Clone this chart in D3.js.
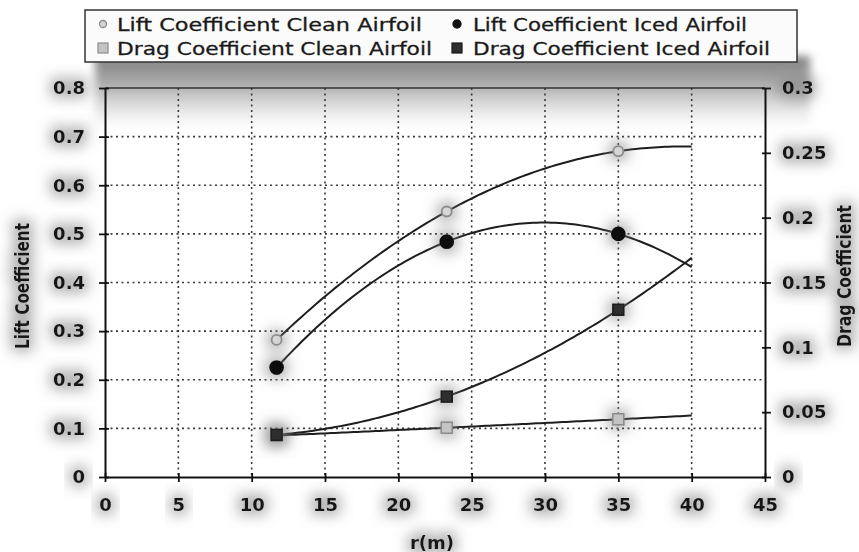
<!DOCTYPE html>
<html>
<head>
<meta charset="utf-8">
<script src="https://cdn.jsdelivr.net/npm/d3@7"></script>
<style>
  html, body { margin: 0; padding: 0; background: #fff; }
  svg { display: block; }
</style>
</head>
<body>
<svg id="chart"></svg>
<script>
// Radial stations along the blade (m)
const rValues = [11.7, 23.3, 35];
// the order-2 trendlines are carried forward to the blade tip
const trendEnd = 40;

const liftClean = [0.282, 0.546, 0.670];
const liftIced = [0.225, 0.484, 0.500];
const dragClean = [0.032, 0.038, 0.0445];
const dragIced = [0.0325, 0.062, 0.129];

const xTicks = [0, 5, 10, 15, 20, 25, 30, 35, 40, 45];
const liftTicks = [0, 0.1, 0.2, 0.3, 0.4, 0.5, 0.6, 0.7, 0.8];
const liftTickLabels = ["0", "0.1", "0.2", "0.3", "0.4", "0.5", "0.6", "0.7", "0.8"];
const dragTicks = [0, 0.05, 0.1, 0.15, 0.2, 0.25, 0.3];
const dragTickLabels = ["0", "0.05", "0.1", "0.15", "0.2", "0.25", "0.3"];

const legendLabels = [
  "Lift Coefficient Clean Airfoil",
  "Lift Coefficient Iced Airfoil",
  "Drag Coefficient Clean Airfoil",
  "Drag Coefficient Iced Airfoil"
];

const width = 859;
const height = 552;
const plot = { left: 105, right: 765, top: 88, bottom: 477 };

const svg = d3.select("#chart").attr("width", width).attr("height", height);

// least-squares polynomial fit (like a spreadsheet trendline)
function polyfit(xs, ys, order) {
  const n = order + 1;
  const A = [];
  for (let i = 0; i < n; i++) {
    A.push([]);
    for (let j = 0; j < n; j++) A[i].push(d3.sum(xs, x => Math.pow(x, i + j)));
    A[i].push(d3.sum(xs, (x, k) => ys[k] * Math.pow(x, i)));
  }
  for (let c = 0; c < n; c++) {
    let p = c;
    for (let r = c + 1; r < n; r++) if (Math.abs(A[r][c]) > Math.abs(A[p][c])) p = r;
    [A[c], A[p]] = [A[p], A[c]];
    for (let r = 0; r < n; r++) {
      if (r === c) continue;
      const f = A[r][c] / A[c][c];
      for (let k = c; k <= n; k++) A[r][k] -= f * A[c][k];
    }
  }
  const coef = A.map((row, i) => row[n] / row[i]);
  return x => coef.reduce((s, c, i) => s + c * Math.pow(x, i), 0);
}

// Scanned-paper look: grey halo behind text and marks
const defs = svg.append("defs");
const halo = defs.append("filter").attr("id", "halo")
  .attr("x", "-60%").attr("y", "-60%").attr("width", "220%").attr("height", "220%");
halo.append("feMorphology").attr("in", "SourceAlpha").attr("operator", "dilate")
  .attr("radius", 4).attr("result", "fat");
halo.append("feGaussianBlur").attr("in", "fat").attr("stdDeviation", 7).attr("result", "blur");
halo.append("feFlood").attr("flood-color", "#808080").attr("flood-opacity", 0.6).attr("result", "grey");
halo.append("feComposite").attr("in", "grey").attr("in2", "blur").attr("operator", "in").attr("result", "shadow");
const hm = halo.append("feMerge");
hm.append("feMergeNode").attr("in", "shadow");
hm.append("feMergeNode").attr("in", "SourceGraphic");

const band = defs.append("linearGradient").attr("id", "band")
  .attr("x1", 0).attr("y1", 0).attr("x2", 0).attr("y2", 1);
band.append("stop").attr("offset", "0%").attr("stop-color", "#6e6e6e").attr("stop-opacity", 0.9);
band.append("stop").attr("offset", "40%").attr("stop-color", "#8a8a8a").attr("stop-opacity", 0.7);
band.append("stop").attr("offset", "100%").attr("stop-color", "#bdbdbd").attr("stop-opacity", 0);

const soft = defs.append("filter").attr("id", "soft")
  .attr("x", "-10%").attr("y", "-30%").attr("width", "120%").attr("height", "160%");
soft.append("feGaussianBlur").attr("stdDeviation", 4);

svg.append("rect").attr("width", width).attr("height", height).attr("fill", "#fff");

// shadow band under the legend
svg.append("rect")
  .attr("x", 95).attr("y", 56).attr("width", 715).attr("height", 72)
  .attr("fill", "url(#band)")
  .attr("filter", "url(#soft)");

// Scales
const x = d3.scaleLinear().domain([0, 45]).range([plot.left, plot.right]);
const yLift = d3.scaleLinear().domain([0, 0.8]).range([plot.bottom, plot.top]);
const yDrag = d3.scaleLinear().domain([0, 0.3]).range([plot.bottom, plot.top]);

// Dotted grid
const grid = svg.append("g")
  .attr("stroke", "#3a3a3a")
  .attr("stroke-width", 1.6)
  .attr("stroke-dasharray", "2,3.5");

grid.selectAll(".vgrid")
  .data(xTicks.slice(1, -1))
  .enter().append("line")
  .attr("x1", d => x(d)).attr("x2", d => x(d))
  .attr("y1", plot.top).attr("y2", plot.bottom);

grid.selectAll(".hgrid")
  .data(liftTicks.slice(1, -1))
  .enter().append("line")
  .attr("x1", plot.left).attr("x2", plot.right)
  .attr("y1", d => yLift(d)).attr("y2", d => yLift(d));

// Plot border (top)
svg.append("line")
  .attr("x1", plot.left).attr("x2", plot.right)
  .attr("y1", plot.top).attr("y2", plot.top)
  .attr("stroke", "#333").attr("stroke-width", 1.5);

// Axes
function styleAxis(g) {
  g.select(".domain").attr("stroke", "#111").attr("stroke-width", 2);
  g.selectAll(".tick line").attr("stroke", "#111").attr("stroke-width", 1.8);
  g.selectAll(".tick text")
    .attr("fill", "#151515")
    .attr("font-family", "'DejaVu Sans', sans-serif")
    .attr("font-weight", "bold")
    .attr("font-size", "18px")
    .attr("filter", "url(#halo)");
}

const xAxis = svg.append("g")
  .attr("transform", `translate(0,${plot.bottom})`)
  .call(d3.axisBottom(x).tickValues(xTicks).tickSizeInner(5).tickSizeOuter(0).tickPadding(16).tickFormat(d3.format("d")))
  .call(styleAxis);
xAxis.selectAll(".tick line").attr("y1", -4);

const leftAxis = svg.append("g")
  .attr("transform", `translate(${plot.left},0)`)
  .call(d3.axisLeft(yLift).tickValues(liftTicks).tickSizeInner(6).tickSizeOuter(0).tickPadding(14)
    .tickFormat((d, i) => liftTickLabels[i]))
  .call(styleAxis);
leftAxis.selectAll(".tick line").attr("x1", 4);

const rightAxis = svg.append("g")
  .attr("transform", `translate(${plot.right},0)`)
  .call(d3.axisRight(yDrag).tickValues(dragTicks).tickSizeInner(6).tickSizeOuter(0).tickPadding(11)
    .tickFormat((d, i) => dragTickLabels[i]))
  .call(styleAxis);
rightAxis.selectAll(".tick line").attr("x1", -3);

// Axis titles
svg.append("text")
  .attr("transform", "translate(29,286) rotate(-90)")
  .attr("text-anchor", "middle")
  .attr("font-family", "'DejaVu Sans', sans-serif")
  .attr("font-weight", "bold")
  .attr("font-size", "19px")
  .attr("textLength", 126).attr("lengthAdjust", "spacingAndGlyphs")
  .attr("fill", "#151515")
  .attr("filter", "url(#halo)")
  .text("Lift Coefficient");

svg.append("text")
  .attr("transform", "translate(851,276) rotate(-90)")
  .attr("text-anchor", "middle")
  .attr("font-family", "'DejaVu Sans', sans-serif")
  .attr("font-weight", "bold")
  .attr("font-size", "19px")
  .attr("textLength", 142).attr("lengthAdjust", "spacingAndGlyphs")
  .attr("fill", "#151515")
  .attr("filter", "url(#halo)")
  .text("Drag Coefficient");

svg.append("text")
  .attr("x", 432).attr("y", 549)
  .attr("text-anchor", "middle")
  .attr("font-family", "'DejaVu Sans', sans-serif")
  .attr("font-weight", "bold")
  .attr("font-size", "18px")
  .attr("fill", "#151515")
  .attr("filter", "url(#halo)")
  .text("r(m)");

// Series
const series = [
  { values: liftClean, y: yLift, shape: "circle", fill: "#d6d6d6", stroke: "#8c8c8c" },
  { values: liftIced, y: yLift, shape: "circle", fill: "#111", stroke: "#111" },
  { values: dragClean, y: yDrag, shape: "square", fill: "#c4c4c4", stroke: "#8c8c8c" },
  { values: dragIced, y: yDrag, shape: "square", fill: "#2e2e2e", stroke: "#1a1a1a" }
];

// trendlines: sample the fitted curve across x-scale ticks-space
series.forEach(s => {
  const fit = polyfit(rValues, s.values, 2);
  const xs = d3.range(rValues[0], trendEnd, 0.25).concat([trendEnd]);
  const line = d3.line().x(d => x(d)).y(d => s.y(fit(d)));
  svg.append("path")
    .attr("d", line(xs))
    .attr("fill", "none")
    .attr("stroke", "#1e1e1e")
    .attr("stroke-width", 2);
});

// Markers (clean first, iced on top)
const markerOrder = [2, 0, 3, 1];
markerOrder.forEach(k => {
  const s = series[k];
  const pts = rValues.map((r, i) => [r, s.values[i]]);
  const g = svg.append("g").attr("filter", "url(#halo)");
  if (s.shape === "circle") {
    g.selectAll("circle").data(pts).enter().append("circle")
      .attr("cx", d => x(d[0])).attr("cy", d => s.y(d[1]))
      .attr("r", k === 0 ? 5 : 6.5)
      .attr("fill", s.fill).attr("stroke", s.stroke).attr("stroke-width", 1.8);
  } else {
    g.selectAll("rect").data(pts).enter().append("rect")
      .attr("x", d => x(d[0]) - 5.5).attr("y", d => s.y(d[1]) - 5.5)
      .attr("width", 11).attr("height", 11)
      .attr("fill", s.fill).attr("stroke", s.stroke).attr("stroke-width", 1.5);
  }
});

// Legend
const legend = svg.append("g");
legend.append("rect")
  .attr("x", 85).attr("y", 10).attr("width", 712).attr("height", 52)
  .attr("fill", "#fbfbfb").attr("stroke", "#333").attr("stroke-width", 1.5);

const legendPos = [
  { mx: 103, tx: 117, y: 31, w: 305 },
  { mx: 457, tx: 473, y: 31, w: 274 },
  { mx: 103, tx: 117, y: 55, w: 315 },
  { mx: 457, tx: 473, y: 55, w: 297 }
];

legendLabels.forEach((label, i) => {
  const p = legendPos[i];
  const s = series[i];
  if (s.shape === "circle") {
    legend.append("circle")
      .attr("cx", p.mx).attr("cy", p.y - 7)
      .attr("r", i === 0 ? 3.5 : 4)
      .attr("fill", s.fill).attr("stroke", s.stroke).attr("stroke-width", 1.3);
  } else {
    legend.append("rect")
      .attr("x", p.mx - 5).attr("y", p.y - 12)
      .attr("width", 10).attr("height", 10)
      .attr("fill", s.fill).attr("stroke", s.stroke).attr("stroke-width", 1.2);
  }
  legend.append("text")
    .attr("x", p.tx).attr("y", p.y)
    .attr("font-family", "'DejaVu Sans', sans-serif")
    .attr("font-size", "18px")
    .attr("fill", "#1a1a1a")
    .attr("stroke", "#1a1a1a").attr("stroke-width", 0.3)
    .attr("textLength", p.w).attr("lengthAdjust", "spacingAndGlyphs")
    .text(label);
});
</script>
</body>
</html>
